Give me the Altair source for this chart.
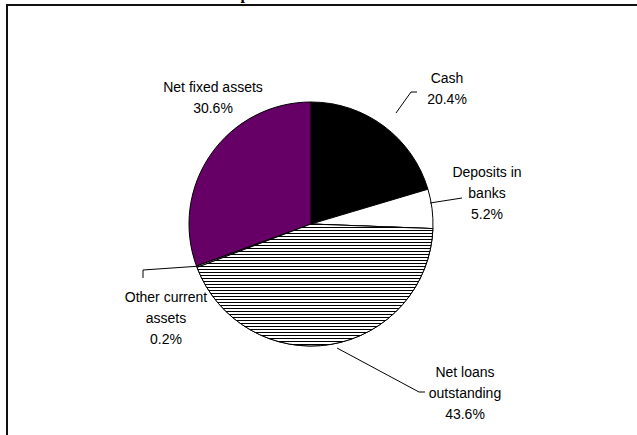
import math
import altair as alt
import pandas as pd

# ---- data ----
categories = ["Cash", "Deposits in banks", "Net loans outstanding",
              "Other current assets", "Net fixed assets"]
shares = [20.4, 5.2, 43.6, 0.2, 30.6]
label_names = ["Cash", "Deposits in\nbanks", "Net loans\noutstanding",
               "Other current\nassets", "Net fixed assets"]
fills = ["#000000", "#ffffff", "#ffffff", "#ffffff", "#660066"]

# ---- layout ----
W, H = 637, 435
CX, CY, R = 311, 224, 122
label_xy = [(447, 83), (487, 177), (465, 377), (166, 302), (213, 92)]
leader_segments = [
    (417, 92, 411, 92), (411, 92, 396, 113),
    (462, 198, 430, 203),
    (425, 392, 419, 392), (419, 392, 337, 348),
    (201, 266, 143, 270), (143, 270, 143, 278),
]

pie_df = pd.DataFrame({
    "category": categories,
    "share": shares,
    "fill": fills,
    "order": list(range(len(categories))),
})

theta_scale = alt.Scale(domain=[0, 100], range=[0, 2 * math.pi])

base = alt.Chart(pie_df).transform_window(
    end="sum(share)", sort=[alt.SortField("order")], frame=[None, 0]
).transform_calculate(start="datum.end - datum.share")

arcs = base.mark_arc(radius=R, stroke="#000000", strokeWidth=1).encode(
    theta=alt.Theta("start:Q", scale=theta_scale),
    theta2="end:Q",
    fill=alt.Fill("fill:N", scale=None),
    x=alt.value(CX), y=alt.value(CY),
)

# horizontal hatching via a striped linear gradient (3 px period, 1 px lines)
period, line_w = 3.0, 1.0
stops = []
k = 0
while k * period < R:
    a = k * period / R
    b = min((k * period + line_w) / R, 1.0)
    c = min((k + 1) * period / R, 1.0)
    stops += [{"offset": a, "color": "#000000"}, {"offset": b, "color": "#000000"},
              {"offset": b, "color": "#ffffff"}, {"offset": c, "color": "#ffffff"}]
    k += 1
hatch = {"gradient": "linear", "x1": 0, "y1": 0, "x2": 0, "y2": 1, "stops": stops}

hatched = base.transform_filter(
    alt.datum.category == "Net loans outstanding"
).mark_arc(radius=R, stroke="#000000", strokeWidth=1, fill=hatch).encode(
    theta=alt.Theta("start:Q", scale=theta_scale),
    theta2="end:Q",
    x=alt.value(CX), y=alt.value(CY),
)

lab_df = pd.DataFrame({
    "text": [f"{n_}\n{v:.1f}%" for n_, v in zip(label_names, shares)],
    "lx": [p[0] for p in label_xy],
    "ly": [p[1] for p in label_xy],
})
labels = alt.Chart(lab_df).mark_text(
    lineBreak="\n", align="center", baseline="alphabetic",
    font="Liberation Sans", fontSize=14, lineHeight=21, color="#000000"
).encode(
    x=alt.X("lx:Q", scale=None), y=alt.Y("ly:Q", scale=None), text="text:N"
)

seg_df = pd.DataFrame(leader_segments, columns=["x", "y", "x2", "y2"])
leaders = alt.Chart(seg_df).mark_rule(color="#000000", strokeWidth=1).encode(
    x=alt.X("x:Q", scale=None), y=alt.Y("y:Q", scale=None),
    x2="x2:Q", y2="y2:Q",
)

border = alt.Chart(pd.DataFrame({"a": [0]})).mark_rect(
    fill=None, stroke="#111111", strokeWidth=2
).encode(x=alt.value(7), y=alt.value(5), x2=alt.value(W + 20), y2=alt.value(H + 20))

title_glyph = alt.Chart(pd.DataFrame({"t": ["p"]})).mark_text(
    font="Liberation Serif", fontSize=16, fontWeight="bold", baseline="alphabetic",
    align="center", color="#000000"
).encode(text="t:N", x=alt.value(245), y=alt.value(-1))

chart = alt.layer(border, arcs, hatched, leaders, labels, title_glyph).properties(
    width=W, height=H, autosize="none", padding=0
).configure_view(strokeWidth=0)

chart.save("out.html", embed_options={"renderer": "svg", "actions": False})
